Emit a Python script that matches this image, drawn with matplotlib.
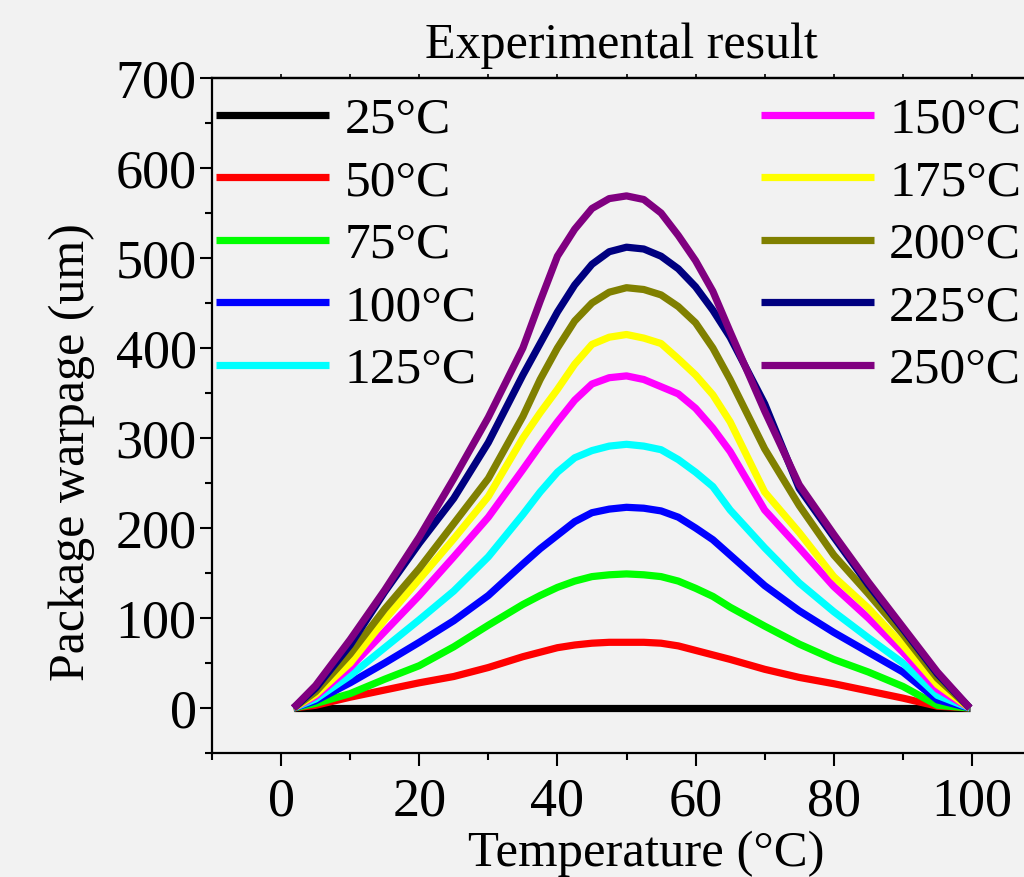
import matplotlib
matplotlib.use("Agg")
import matplotlib.pyplot as plt
from matplotlib.ticker import MultipleLocator

# temperature axis
temp = [1.8, 5, 10, 15, 20, 25, 30, 35, 37.5, 40, 42.5, 45, 47.5, 50,
        52.5, 55, 57.5, 60, 62.5, 65, 70, 75, 80, 85, 90, 95, 99.7]

# package warpage (um) per test temperature
w25 = [0] * len(temp)
w50 = [0, 3, 12, 20, 28, 35, 45, 57, 62, 67, 70, 72, 73, 73,
       73, 72, 69, 64, 59, 54, 43, 34, 27, 19, 11, 2, 0]
w75 = [0, 5, 16, 32, 47, 68, 92, 115, 125, 134, 141, 146, 148, 149,
       148, 146, 141, 133, 124, 112, 91, 71, 54, 40, 24, 3, 0]
w100 = [0, 8, 28, 50, 73, 97, 125, 160, 177, 192, 207, 217, 221, 223,
        222, 219, 212, 200, 187, 170, 136, 108, 84, 62, 40, 9, 0]
w125 = [0, 10, 36, 67, 98, 130, 168, 215, 240, 262, 278, 286, 291, 293,
        291, 287, 276, 262, 246, 220, 178, 139, 107, 78, 50, 14, 0]
w150 = [0, 13, 45, 85, 125, 168, 212, 265, 292, 318, 342, 360, 367, 369,
        365, 357, 349, 333, 311, 285, 220, 178, 135, 100, 62, 21, 0]
w175 = [0, 15, 50, 98, 143, 188, 235, 300, 328, 354, 382, 404, 412, 415,
        411, 405, 388, 370, 348, 318, 240, 195, 146, 111, 70, 26, 0]
w200 = [0, 18, 60, 110, 155, 205, 255, 324, 365, 400, 430, 450, 462, 467,
        465, 459, 446, 428, 400, 365, 288, 225, 170, 127, 82, 33, 0]
w225 = [0, 22, 70, 129, 183, 233, 295, 370, 405, 440, 470, 493, 507, 512,
        510, 502, 488, 468, 442, 412, 338, 244, 190, 137, 88, 38, 0]
w250 = [0, 25, 76, 131, 190, 255, 323, 400, 452, 502, 532, 555, 566, 569,
        565, 550, 525, 497, 463, 418, 330, 248, 193, 140, 90, 40, 0]

series = [w25, w50, w75, w100, w125, w150, w175, w200, w225, w250]
labels = ["25°C", "50°C", "75°C", "100°C", "125°C",
          "150°C", "175°C", "200°C", "225°C", "250°C"]
colors = ["#000000", "#ff0000", "#00ff00", "#0000ff", "#00ffff",
          "#ff00ff", "#ffff00", "#808000", "#000080", "#800080"]

plt.rcParams["font.family"] = ["Liberation Serif", "DejaVu Serif"]
bg = "#f2f2f2"

fig = plt.figure(figsize=(10.24, 8.77), dpi=100, facecolor=bg)
ax = fig.add_axes([212 / 1024, 124 / 877, 829 / 1024, 675 / 877], facecolor=bg)

lines = []
for ys, lab, c in zip(series, labels, colors):
    ln, = ax.plot(temp, ys, color=c, lw=5.2, label=lab,
                  solid_capstyle="butt", solid_joinstyle="round")
    lines.append(ln)

ax.set_xlim(-10, 110)
ax.set_ylim(-50, 700)
ax.xaxis.set_minor_locator(MultipleLocator(10))
ax.yaxis.set_major_locator(MultipleLocator(100))
ax.yaxis.set_minor_locator(MultipleLocator(50))
ax.set_xticks([0, 20, 40, 60, 80, 100])

for s in ["left", "bottom", "top"]:
    ax.spines[s].set_linewidth(1.6)
ax.spines["right"].set_visible(False)

ax.tick_params(which="major", direction="out", length=9, width=1.5, labelsize=39)
ax.tick_params(which="minor", direction="out", length=5, width=1.5)
ax.tick_params(axis="x", which="major", pad=8)
ax.tick_params(axis="y", which="major", pad=2)

top = ax.secondary_xaxis("top")
top.set_xticks(range(0, 111, 10))
top.tick_params(direction="out", length=3, width=1.2, labeltop=False)
top.spines["top"].set_linewidth(1.6)

ax.set_xlabel("Temperature (°C)", fontsize=36.5)
ax.set_ylabel("Package warpage (um)", fontsize=36)
ax.xaxis.set_label_coords(0.5235, -0.115)
ax.yaxis.set_label_coords(-0.141, 0.446)
fig.text(621 / 1024, 1 - 46 / 877, "Experimental result", fontsize=36,
         ha="center", va="center")

leg_kw = dict(frameon=False, fontsize=37, handlelength=2.2, handletextpad=0.3,
              labelspacing=0.3, borderpad=0, borderaxespad=0)
leg1 = fig.legend(handles=lines[:5], loc="upper left",
                  bbox_to_anchor=(216 / 1024, 1 - 97 / 877), **leg_kw)
leg2 = fig.legend(handles=lines[5:], loc="upper right",
                  bbox_to_anchor=(1021 / 1024, 1 - 97 / 877), **leg_kw)

fig.savefig("out.png", dpi=100, facecolor=bg)
